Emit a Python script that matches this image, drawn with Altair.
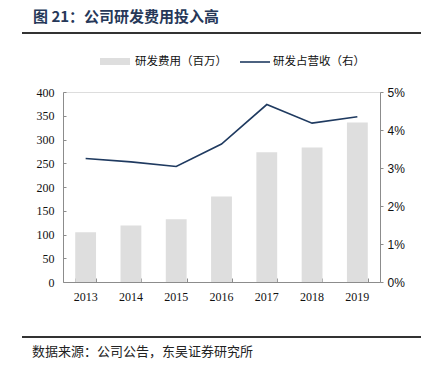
import altair as alt
import pandas as pd

years = ["2013", "2014", "2015", "2016", "2017", "2018", "2019"]
rd_expense = [105, 119, 132, 180, 273, 283, 336]
rd_ratio = [3.25, 3.16, 3.04, 3.63, 4.67, 4.18, 4.35]

title_text = "图 21：公司研发费用投入高"
source_text = "数据来源：公司公告，东吴证券研究所"
legend_bar = "研发费用（百万）"
legend_line = "研发占营收（右）"

df = pd.DataFrame({"year": years, "rd": rd_expense, "ratio": rd_ratio})

BAR = "#dedede"
LINE = "#1f3a60"
AXIS = "#8c8c8c"
CJK = "Noto Sans CJK SC"

xscale = alt.Scale(paddingInner=0.54, paddingOuter=0.27)

bars = alt.Chart(df).mark_bar(color=BAR).encode(
    x=alt.X(
        "year:N", sort=years, title=None, scale=xscale,
        axis=alt.Axis(
            orient="bottom", labelAngle=0, labelFont="Liberation Serif", labelFontSize=12,
            labelColor="#111", domainColor=AXIS, ticks=False, labelPadding=9,
        ),
    ),
    y=alt.Y(
        "rd:Q", title=None,
        scale=alt.Scale(domain=[0, 400], nice=False),
        axis=alt.Axis(
            orient="left", values=[0, 50, 100, 150, 200, 250, 300, 350, 400],
            labelFont="Liberation Serif", labelFontSize=12, labelColor="#111",
            domainColor=AXIS, ticks=False, grid=False, labelPadding=9,
        ),
    ),
)

# inward tick marks (ticks-only axes shifted inside the plot)
ticks_layer = alt.Chart(df).mark_bar(opacity=0).encode(
    x=alt.X(
        "year:N", sort=years, title=None, scale=xscale,
        axis=alt.Axis(orient="bottom", labels=False, domain=False, ticks=True,
                      tickBand="extent", tickSize=4, offset=-4, tickColor=AXIS),
    ),
    y=alt.Y(
        "rd:Q", title=None,
        scale=alt.Scale(domain=[0, 400], nice=False),
        axis=alt.Axis(orient="left", labels=False, domain=False, ticks=True,
                      values=[0, 50, 100, 150, 200, 250, 300, 350, 400],
                      tickSize=3, offset=-3, tickColor=AXIS, grid=False),
    ),
)

line = alt.Chart(df).mark_line(color=LINE, strokeWidth=1.6).encode(
    x=alt.X("year:N", sort=years, scale=xscale, axis=None),
    y=alt.Y(
        "ratio:Q", title=None,
        scale=alt.Scale(domain=[0, 5], nice=False),
        axis=alt.Axis(
            orient="right", values=[0, 1, 2, 3, 4, 5],
            labelExpr="datum.value + '%'",
            labelFont="Liberation Sans", labelFontSize=12, labelColor="#111",
            domainColor=AXIS, tickColor=AXIS, tickSize=3, grid=False, labelPadding=4,
        ),
    ),
)

one = pd.DataFrame({"k": [0]})

title = alt.Chart(one).mark_text(
    text=title_text, align="left", baseline="middle", font=CJK,
    fontSize=15, fontWeight="bold", color="#263859",
).encode(x=alt.value(-30), y=alt.value(-75))

title_rule = alt.Chart(one).mark_rule(color="#333333", strokeWidth=2).encode(
    x=alt.value(-41), x2=alt.value(358), y=alt.value(-59)
)

leg_rect = alt.Chart(one).mark_rect(color=BAR).encode(
    x=alt.value(37), x2=alt.value(67), y=alt.value(-34), y2=alt.value(-27)
)
leg_text1 = alt.Chart(one).mark_text(
    text=legend_bar, align="left", baseline="middle", font=CJK, fontSize=11.5, color="#111"
).encode(x=alt.value(72), y=alt.value(-30))
leg_line = alt.Chart(one).mark_rule(color=LINE, strokeWidth=1.6).encode(
    x=alt.value(177), x2=alt.value(207), y=alt.value(-30)
)
leg_text2 = alt.Chart(one).mark_text(
    text=legend_line, align="left", baseline="middle", font=CJK, fontSize=11.5, color="#111"
).encode(x=alt.value(210), y=alt.value(-30))

foot_rule = alt.Chart(one).mark_rule(color="#333333", strokeWidth=2).encode(
    x=alt.value(-41), x2=alt.value(358), y=alt.value(245)
)
foot_text = alt.Chart(one).mark_text(
    text=source_text, align="left", baseline="middle", font=CJK, fontSize=13, color="#222"
).encode(x=alt.value(-31), y=alt.value(260))

chart = alt.layer(
    bars, ticks_layer, line,
    title, title_rule, leg_rect, leg_text1, leg_line, leg_text2, foot_rule, foot_text,
).resolve_scale(y="independent").resolve_axis(y="independent", x="independent").properties(
    width=317, height=190,
    autosize=alt.AutoSizeParams(type="none"),
    padding={"left": 63, "top": 92, "right": 55, "bottom": 94},
).configure_view(stroke=None).configure(background="white")

chart.save("out.html", embed_options={"renderer": "svg", "actions": False})
